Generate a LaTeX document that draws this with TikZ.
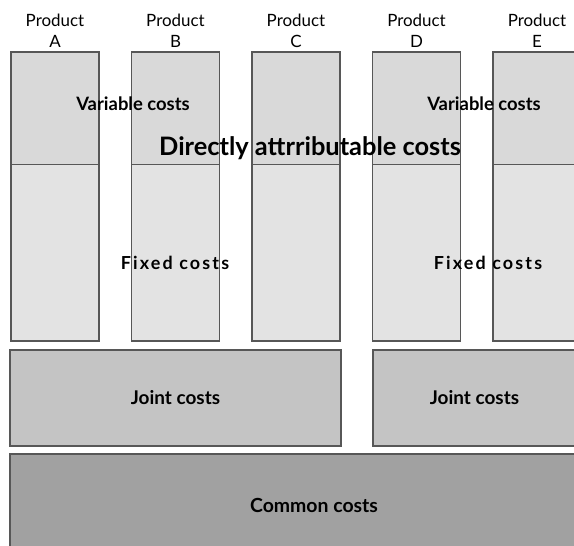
\documentclass[tikz,border=0pt]{standalone}
\usepackage{fontspec}
\setmainfont{Lato}
\usetikzlibrary{positioning}

\begin{document}
\begin{tikzpicture}
[
    x=1bp, y=-1bp,
    cell/.style={draw=black!66, line width=1.2bp, inner sep=0pt, outer sep=0pt, anchor=north west},
    varcell/.style={cell, fill=black!15, minimum width=88bp, minimum height=112.5bp},
    fixcell/.style={cell, fill=black!11, minimum width=88bp, minimum height=176.5bp, anchor=north},
    jointcell/.style={cell, fill=black!23, minimum height=96bp, font=\bfseries\fontsize{19}{21}\selectfont},
    commoncell/.style={cell, fill=black!37, minimum height=102bp, font=\bfseries\fontsize{19.5}{21}\selectfont},
    head/.style={align=center, inner sep=0pt, font=\fontsize{17}{21}\selectfont},
    tag/.style={inner sep=0pt, font=\bfseries\fontsize{18.5}{20}\selectfont},
    spaced/.style={tag, font=\bfseries\fontsize{18}{20}\selectfont\addfontfeature{LetterSpace=12}},
]
\useasboundingbox (0,0) rectangle (574,546);

\node [varcell] (varA) at (11,52) {};
\node [varcell, right=32.5bp of varA] (varB) {};
\node [varcell, right=32.5bp of varB] (varC) {};
\node [varcell, right=32.5bp of varC] (varD) {};
\node [varcell, right=32.5bp of varD] (varE) {};

\node [fixcell, below=0pt of varA] (fixA) {};
\node [fixcell, below=0pt of varB] (fixB) {};
\node [fixcell, below=0pt of varC] (fixC) {};
\node [fixcell, below=0pt of varD] (fixD) {};
\node [fixcell, below=0pt of varE] (fixE) {};

\node [head, above=4bp of varA] (headA) {Product\\A};
\node [head, above=4bp of varB] (headB) {Product\\B};
\node [head, above=4bp of varC] (headC) {Product\\C};
\node [head, above=4bp of varD] (headD) {Product\\D};
\node [head, above=4bp of varE] (headE) {Product\\E};

\node [jointcell, minimum width=331bp] (jointL) at (10,350) {Joint costs};
\node [jointcell, minimum width=203bp] (jointR) at (373,350) {Joint costs};
\node [commoncell, minimum width=608bp] (common) at (10,454) {Common costs};

\node [tag] (varL) at (133,104) {Variable costs};
\node [tag] (varR) at (484,104) {Variable costs};
\node [tag, font=\bfseries\fontsize{25.5}{27}\selectfont] (direct) at (310,148) {Directly attrributable costs};
\node [spaced] (fixL) at (175,263) {Fixed costs};
\node [spaced] (fixR) at (488,263) {Fixed costs};
\end{tikzpicture}
\end{document}
